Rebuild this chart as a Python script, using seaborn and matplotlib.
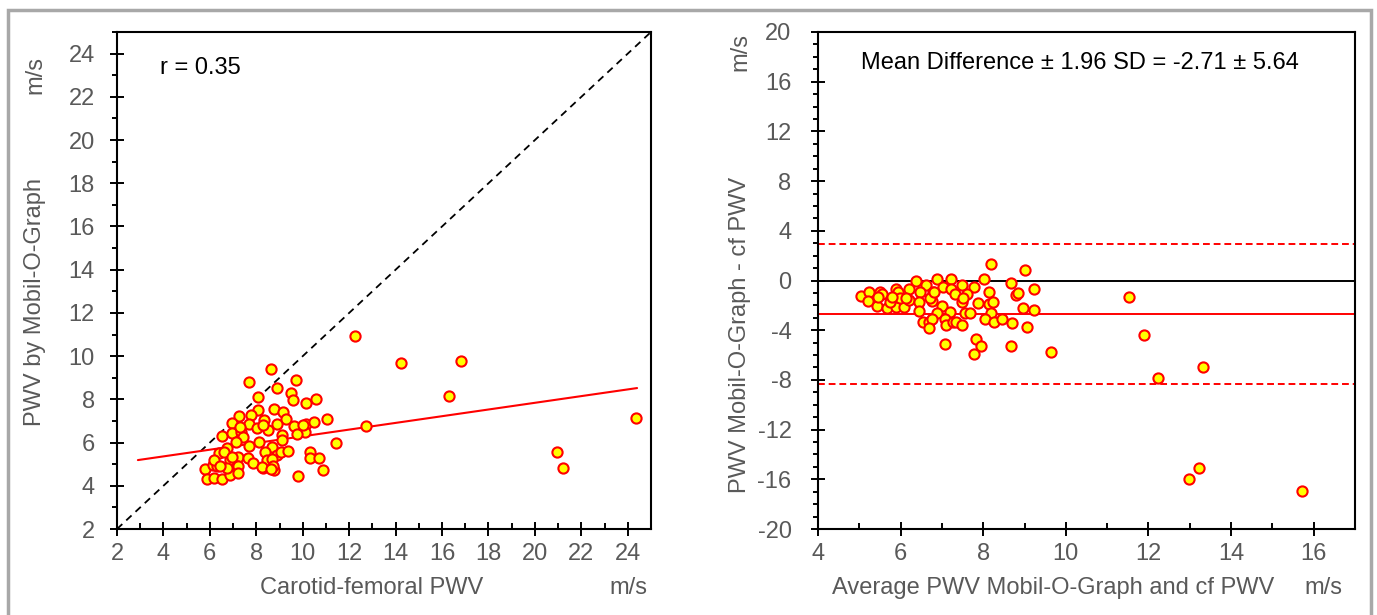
import numpy as np
import pandas as pd
import matplotlib
matplotlib.use("Agg")
import matplotlib.pyplot as plt
import seaborn as sns
from matplotlib.patches import Rectangle
from matplotlib.ticker import MultipleLocator

# ---------------- data ----------------
cf_pwv = [8.63, 7.68, 9.71, 8.89, 8.07, 9.49, 9.58, 10.14, 10.57, 8.07,
          8.76, 9.15, 9.28, 7.77, 7.25, 8.33, 6.95, 7.68, 8.03, 8.50,
          8.89, 9.62, 10.14, 10.48, 11.04, 10.10, 9.75, 12.72, 11.43, 6.52,
          6.95, 7.34, 7.43, 7.12, 7.68, 8.12, 9.11, 9.11, 8.68, 8.89,
          8.37, 9.06, 9.36, 10.31, 10.31, 10.70, 10.87, 9.80, 6.39, 6.74,
          6.87, 7.21, 7.17, 7.64, 7.86, 8.29, 8.50, 8.76, 8.46, 5.79,
          6.13, 6.31, 5.88, 6.18, 6.52, 6.87, 6.74, 7.30, 8.29, 6.61,
          6.18, 6.95, 6.44, 7.21, 8.68, 8.72, 8.24, 8.63, 7.21, 10.01,
          12.25, 14.23, 16.81, 16.30, 20.95, 21.21, 24.35]
mog_pwv = [9.40, 8.80, 8.89, 8.52, 8.11, 8.29, 7.97, 7.83, 8.02, 7.51,
           7.55, 7.41, 7.09, 7.28, 7.23, 7.04, 6.91, 6.86, 6.67, 6.58,
           6.86, 6.77, 6.86, 6.95, 7.09, 6.49, 6.40, 6.77, 5.98, 6.30,
           6.44, 6.49, 6.26, 6.03, 5.84, 6.03, 6.35, 6.12, 5.79, 5.42,
           5.56, 5.56, 5.61, 5.56, 5.29, 5.29, 4.73, 4.45, 5.52, 5.75,
           5.19, 5.33, 4.92, 5.29, 5.05, 4.82, 4.92, 4.73, 5.19, 4.78,
           4.96, 4.92, 4.31, 4.36, 4.31, 4.50, 4.82, 6.72, 6.81, 5.56,
           5.19, 5.33, 4.92, 4.92, 5.24, 4.92, 4.87, 4.78, 4.59, 6.81,
           10.93, 9.68, 9.77, 8.15, 5.56, 4.82, 7.14]

avg_pwv = [8.18, 9.01, 6.38, 6.89, 7.23, 8.03, 6.62, 7.03, 7.49, 7.77,
           8.68, 9.24, 8.80, 8.84, 5.05, 5.24, 5.51, 5.56, 5.90, 5.94,
           6.21, 6.46, 6.79, 7.21, 7.31, 7.49, 7.60, 7.87, 8.14, 8.14,
           8.24, 5.42, 5.66, 5.90, 6.08, 5.98, 6.21, 6.44, 6.75, 7.00,
           6.44, 6.89, 7.20, 7.55, 7.67, 8.18, 8.96, 9.24, 6.53, 6.69,
           6.77, 6.69, 7.07, 7.11, 7.26, 7.34, 7.49, 8.05, 8.27, 8.46,
           8.70, 9.06, 7.07, 7.83, 7.95, 7.77, 8.68, 9.65, 6.72, 6.81,
           5.74, 5.78, 5.21, 5.46, 6.14, 7.51,
           11.53, 11.89, 13.33, 12.23, 13.22, 12.98, 15.72]
diff_pwv = [1.30, 0.85, -0.04, 0.12, 0.12, 0.12, -0.36, -0.50, -0.36, -0.50,
            -0.22, -0.68, -1.17, -1.03, -1.25, -0.95, -0.95, -1.11, -0.71, -0.90,
            -0.71, -0.95, -0.90, -0.68, -1.11, -1.71, -1.11, -1.83, -0.95, -1.89,
            -1.75, -2.03, -2.19, -2.11, -2.11, -1.43, -1.57, -1.71, -1.63, -2.03,
            -2.43, -2.64, -2.56, -2.64, -2.64, -2.64, -2.24, -2.37, -3.32, -3.32,
            -3.12, -3.80, -3.12, -3.58, -3.36, -3.32, -3.58, -3.12, -3.32, -3.12,
            -3.40, -3.72, -5.11, -4.73, -5.27, -5.92, -5.27, -5.73, -1.43, -0.90,
            -1.71, -1.30, -1.65, -1.35, -1.43, -1.38,
            -1.30, -4.36, -6.96, -7.87, -15.09, -15.98, -16.92]

r_value = 0.35
reg_slope = 0.155
reg_intercept = 4.74
reg_x_range = [2.9, 24.4]
mean_diff = -2.71
loa_1_96sd = 5.64

# ---------------- style ----------------
sns.set_theme(style="ticks")
plt.rcParams["font.family"] = ["Liberation Sans", "DejaVu Sans"]
plt.rcParams["axes.unicode_minus"] = False

GRAY = "#595959"
FS = 17
MS = 54
MLW = 1.5

fig = plt.figure(figsize=(13.77, 6.15), dpi=100)
fig.patch.set_facecolor("white")

ax1 = fig.add_axes([117/1377, 1-529/615, (651-117)/1377, (529-32)/615])
ax2 = fig.add_axes([818/1377, 1-529/615, (1355-818)/1377, (529-32)/615])

left_df = pd.DataFrame({"cf": cf_pwv, "mog": mog_pwv})
right_df = pd.DataFrame({"avg": avg_pwv, "diff": diff_pwv})

# ---- left: correlation ----
lims = [2, 25]
ax1.plot(lims, lims, color="black", lw=1.3, ls=(0, (4, 3)), zorder=1)
rx = np.array(reg_x_range)
sns.lineplot(x=rx, y=reg_intercept + reg_slope * rx, ax=ax1, color="#ff0000", lw=1.5, zorder=2)
sns.scatterplot(data=left_df, x="cf", y="mog", ax=ax1, color="#ffff00", edgecolor="#ff0000",
                linewidth=MLW, s=MS, zorder=3)
ax1.set_xlim(2, 25)
ax1.set_ylim(2, 25)
ax1.xaxis.set_major_locator(MultipleLocator(2))
ax1.xaxis.set_minor_locator(MultipleLocator(1))
ax1.yaxis.set_major_locator(MultipleLocator(2))
ax1.yaxis.set_minor_locator(MultipleLocator(1))
ax1.set_xticks(np.arange(2, 25, 2))
ax1.text(3.85, 23.33, f"r = {r_value:.2f}", fontsize=FS, color="black", ha="left", va="center")

# ---- right: Bland-Altman ----
ax2.axhline(0, color="black", lw=1.4, zorder=1)
ax2.axhline(mean_diff, color="#ff0000", lw=1.4, zorder=1)
ax2.axhline(mean_diff + loa_1_96sd, color="#ff0000", lw=1.4, ls=(0, (3.5, 2)), zorder=1)
ax2.axhline(mean_diff - loa_1_96sd, color="#ff0000", lw=1.4, ls=(0, (3.5, 2)), zorder=1)
sns.scatterplot(data=right_df, x="avg", y="diff", ax=ax2, color="#ffff00", edgecolor="#ff0000",
                linewidth=MLW, s=MS, zorder=3)
ax2.set_xlim(4, 17)
ax2.set_ylim(-20, 20)
ax2.xaxis.set_major_locator(MultipleLocator(2))
ax2.xaxis.set_minor_locator(MultipleLocator(1))
ax2.yaxis.set_major_locator(MultipleLocator(4))
ax2.yaxis.set_minor_locator(MultipleLocator(1))
ax2.set_xticks(np.arange(4, 17, 2))
ax2.text(10.35, 17.5, f"Mean Difference \u00b1 1.96 SD = {mean_diff:.2f} \u00b1 {loa_1_96sd:.2f}",
         fontsize=FS, color="black", ha="center", va="center")

for ax in (ax1, ax2):
    ax.set_xlabel("")
    ax.set_ylabel("")
    for sp in ax.spines.values():
        sp.set_visible(True)
        sp.set_color("black")
        sp.set_linewidth(1.5)
    ax.tick_params(axis="both", which="major", direction="inout", length=10, width=1.4,
                   color="black", labelsize=FS, labelcolor=GRAY,
                   top=False, right=False, bottom=True, left=True)
    ax.tick_params(axis="y", which="minor", direction="out", length=3.5, width=1.4,
                   color="black", left=True, right=False)
    ax.tick_params(axis="x", which="minor", direction="in", length=4, width=1.4,
                   color="black", bottom=True, top=False)
    ax.tick_params(axis="x", which="major", pad=5)
ax1.tick_params(axis="y", which="major", pad=11)
ax2.tick_params(axis="y", which="major", pad=14)

# ---- axis labels as figure text ----
fig.text(35/1377, 1-302/615, "PWV by Mobil-O-Graph", rotation=90, fontsize=FS, color=GRAY,
         ha="center", va="center")
fig.text(35/1377, 1-75/615, "m/s", rotation=90, fontsize=FS, color=GRAY, ha="center", va="center")
fig.text(372/1377, 1-588/615, "Carotid-femoral PWV", fontsize=FS, color=GRAY, ha="center", va="center")
fig.text(628/1377, 1-588/615, "m/s", fontsize=FS, color=GRAY, ha="center", va="center")
fig.text(740/1377, 1-335/615, "PWV Mobil-O-Graph - cf PWV", rotation=90, fontsize=FS, color=GRAY,
         ha="center", va="center")
fig.text(740/1377, 1-52/615, "m/s", rotation=90, fontsize=FS, color=GRAY, ha="center", va="center")
fig.text(1053/1377, 1-588/615, "Average PWV Mobil-O-Graph and cf PWV", fontsize=FS, color=GRAY,
         ha="center", va="center")
fig.text(1323/1377, 1-588/615, "m/s", fontsize=FS, color=GRAY, ha="center", va="center")

# ---- outer gray frame ----
fig.patches.append(Rectangle((8/1377, -0.1), (1371-8)/1377, (615-10)/615 + 0.1,
                             transform=fig.transFigure, fill=False, edgecolor="#a8a8a8",
                             linewidth=2.5, zorder=0))

fig.savefig("out.png", dpi=100)
